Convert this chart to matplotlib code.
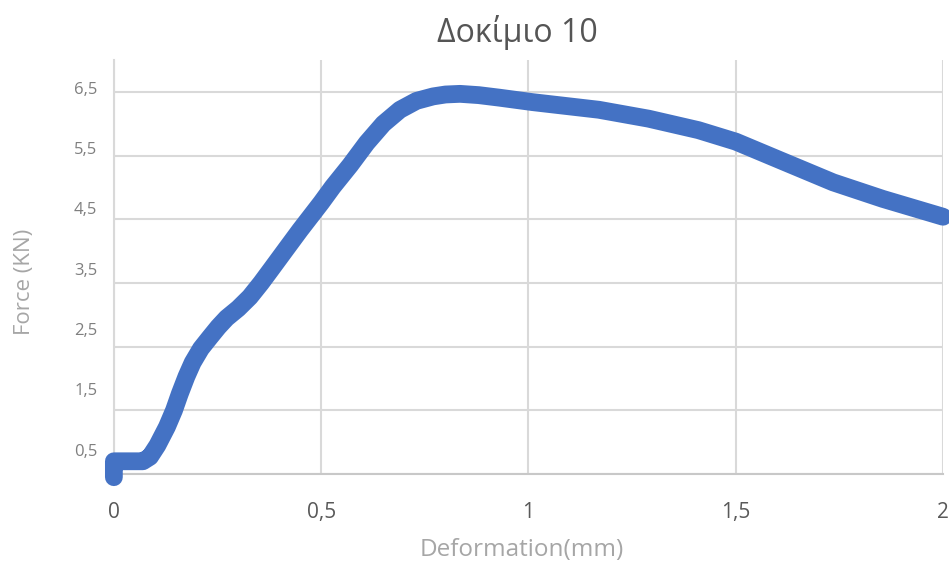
import matplotlib
matplotlib.use("Agg")
import matplotlib.pyplot as plt
from matplotlib.ticker import FuncFormatter
from matplotlib.transforms import ScaledTranslation

plt.rcParams['font.family'] = ['Open Sans', 'DejaVu Sans']

# deformation (mm) and force (kN) of specimen 10
deformation = [0.0, 0.0, 0.01, 0.04, 0.07, 0.087, 0.105, 0.128, 0.145, 0.159,
               0.175, 0.19, 0.21, 0.232, 0.252, 0.272, 0.30, 0.328, 0.355, 0.38,
               0.415, 0.449, 0.5, 0.528, 0.57, 0.61, 0.65, 0.69, 0.73, 0.77,
               0.80, 0.835, 0.88, 0.93, 1.01, 1.09, 1.17, 1.29, 1.41, 1.5,
               1.61, 1.735, 1.855, 2.0]
force = [0.45, 0.70, 0.70, 0.70, 0.70, 0.77, 0.95, 1.24, 1.50, 1.76,
         2.03, 2.25, 2.47, 2.65, 2.81, 2.95, 3.10, 3.28, 3.50, 3.72,
         4.03, 4.33, 4.76, 5.01, 5.35, 5.70, 6.00, 6.22, 6.36, 6.43,
         6.46, 6.47, 6.45, 6.41, 6.34, 6.28, 6.22, 6.08, 5.90, 5.72,
         5.42, 5.08, 4.82, 4.54]

x_ticks = [0, 0.5, 1, 1.5, 2]
y_ticks = [0.5, 1.5, 2.5, 3.5, 4.5, 5.5, 6.5]

BLUE = '#4472C4'
GRID = '#d9d9d9'


def comma(v, _pos=None):
    return f'{v:g}'.replace('.', ',')


fig = plt.figure(figsize=(9.49, 5.67), dpi=100)
ax = fig.add_axes([0.120, 0.164, 0.8737, 0.730])

ax.plot(deformation, force, color=BLUE, lw=12.8, solid_capstyle='round',
        solid_joinstyle='round', clip_on=False, zorder=3)

ax.set_xlim(0, 2)
ax.set_ylim(0.5, 7.0)
ax.set_xticks(x_ticks)
ax.set_yticks(y_ticks)
ax.xaxis.set_major_formatter(FuncFormatter(comma))
ax.yaxis.set_major_formatter(FuncFormatter(comma))

ax.grid(True, color=GRID, lw=1.5)
ax.set_axisbelow(True)
for side in ('top', 'right'):
    ax.spines[side].set_visible(False)
ax.spines['left'].set_color(GRID)
ax.spines['left'].set_linewidth(1.5)
ax.spines['bottom'].set_color('#c8c8c8')
ax.spines['bottom'].set_linewidth(1.5)

ax.tick_params(axis='x', length=0, pad=20, labelsize=15, labelcolor='#595959')
ax.tick_params(axis='y', length=0, pad=12, labelsize=12, labelcolor='#7f7f7f')

# value labels on the force axis sit a little above their gridlines,
# drifting further up towards the bottom of the axis
fig.canvas.draw()
for lbl, v in zip(ax.get_yticklabels(), y_ticks):
    dy = (4 + (6.5 - v) * 3.4) * 0.72 / 72
    lbl.set_transform(lbl.get_transform() + ScaledTranslation(0, dy, fig.dpi_scale_trans))

ax.set_title('Δοκίμιο 10', fontsize=23, color='#555555', pad=13, x=0.487)
ax.set_xlabel('Deformation(mm)', fontsize=17.5, color='#a6a6a6')
ax.xaxis.set_label_coords(0.492, -0.155)
ax.set_ylabel('Force (KN)', fontsize=16, color='#a6a6a6')
ax.yaxis.set_label_coords(-0.095, 0.464)

fig.savefig('out.png', dpi=100)
